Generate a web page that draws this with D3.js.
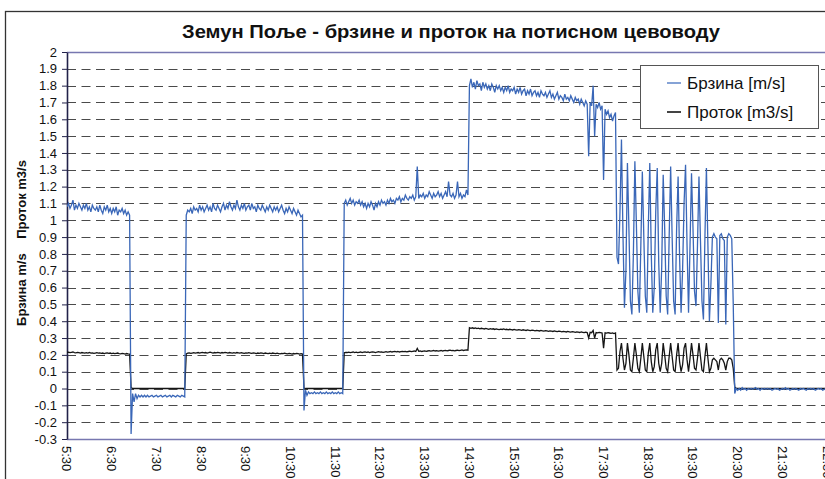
<!DOCTYPE html>
<html><head><meta charset="utf-8">
<script src="https://cdn.jsdelivr.net/npm/d3@7/dist/d3.min.js"></script>
<style>
body{margin:0;background:#fff}
svg{display:block;font-family:"Liberation Sans",Arial,sans-serif}
</style>
</head><body>
<svg id="c" width="825" height="479"></svg>
<script>
// ---------- DATA (minutes after 5:30, sampled every 2 min) ----------
const STEP = 2;
const title = "Земун Поље - брзине и проток на потисном цевоводу";
const seriesNames = ["Брзина [m/s]", "Проток [m3/s]"];
const yAxisTitle = "Брзина m/s    Проток m3/s";
const xTickLabels = ["5:30","6:30","7:30","8:30","9:30","10:30","11:30","12:30","13:30","14:30","15:30","16:30","17:30","18:30","19:30","20:30","21:30","22:30"];
const yTickValues = [-0.3,-0.2,-0.1,0,0.1,0.2,0.3,0.4,0.5,0.6,0.7,0.8,0.9,1,1.1,1.2,1.3,1.4,1.5,1.6,1.7,1.8,1.9,2];

// Брзина (velocity)
const brzina1 = [1.08,1.10,1.07,1.09,1.12,1.06,1.09,1.07,1.10,1.08,
1.06,1.09,1.07,1.10,1.06,1.08,1.05,1.09,1.07,1.06,
1.08,1.05,1.09,1.06,1.04,1.08,1.06,1.09,1.05,1.07,
1.04,1.07,1.05,1.08,1.03,1.06,1.05,1.07,1.04,1.06,
1.03,1.05,1.03];
const brzina2 = [-0.27,-0.03,-0.08,-0.03,-0.06,-0.04,-0.05,-0.04,-0.05,-0.04,
-0.05,-0.04,-0.05,-0.045,-0.04,-0.05,-0.045,-0.04,-0.05,-0.045,
-0.04,-0.05,-0.045,-0.04,-0.05,-0.045,-0.04,-0.05,-0.04,-0.045,
-0.05,-0.04,-0.045,-0.05,-0.04,-0.045,-0.05];
const brzina3 = [1.03,1.06,1.05,1.07,1.04,1.08,1.06,1.07,1.05,1.09,
1.06,1.08,1.05,1.07,1.09,1.06,1.08,1.05,1.10,1.07,
1.06,1.09,1.07,1.05,1.08,1.10,1.06,1.09,1.07,1.11,
1.08,1.06,1.09,1.07,1.12,1.08,1.06,1.09,1.07,1.10,
1.06,1.08,1.09,1.06,1.10,1.07,1.08,1.05,1.09,1.07,
1.06,1.09,1.07,1.05,1.08,1.06,1.09,1.07,1.05,1.08,
1.06,1.08,1.05,1.07,1.09,1.06,1.04,1.07,1.05,1.08,
1.06,1.04,1.07,1.05,1.03,1.06,1.04,1.02,1.03];
const brzina4 = [-0.13,-0.01,-0.04,-0.02,-0.03,-0.025,-0.03,-0.02,-0.03,-0.025,
-0.03,-0.02,-0.03,-0.025,-0.03,-0.02,-0.03,-0.025,-0.03,-0.02,
-0.03,-0.025,-0.03,-0.02,-0.03,-0.025,-0.03];
const brzina5 = [1.10,1.12,1.09,1.11,1.13,1.10,1.12,1.09,1.11,1.10,
1.12,1.09,1.11,1.08,1.10,1.07,1.10,1.08,1.11,1.09,
1.06,1.10,1.08,1.11,1.09,1.12,1.10,1.11,1.09,1.12,
1.10,1.13,1.11,1.12,1.10,1.13,1.12,1.14,1.11,1.13,
1.12,1.15,1.13,1.12,1.14,1.13,1.15,1.12,1.14,1.32,
1.13,1.15,1.14,1.16,1.13,1.15,1.14,1.17,1.15,1.13,
1.16,1.14,1.15,1.17,1.14,1.16,1.13,1.15,1.17,1.14,
1.23,1.15,1.14,1.16,1.13,1.15,1.23,1.14,1.16,1.13,
1.15,1.14,1.18,1.15];
const brzina6 = [1.80,1.84,1.79,1.82,1.78,1.83,1.80,1.81,1.77,1.82,
1.79,1.81,1.78,1.80,1.77,1.81,1.79,1.76,1.80,1.78,
1.80,1.77,1.79,1.76,1.79,1.77,1.80,1.76,1.78,1.77,
1.79,1.75,1.78,1.76,1.79,1.75,1.77,1.78,1.74,1.77,
1.75,1.78,1.74,1.76,1.77,1.74,1.76,1.73,1.77,1.75,
1.74,1.76,1.73,1.75,1.77,1.73,1.75,1.72,1.74,1.76,
1.72,1.74,1.73,1.71,1.75,1.72,1.73,1.71,1.74,1.72,
1.70,1.73,1.71,1.72,1.69,1.72,1.70,1.68,1.71,1.69,
1.38,1.70,1.68,1.80,1.50,1.69,1.67,1.70,1.66,1.68,
1.24,1.66,1.63,1.65,1.61,1.63,1.59,1.62,1.64];
const brzina7 = [0.78,0.74,1.05,1.48,0.92,0.48,0.70,1.34,0.95,0.52,
0.44,0.80,1.35,0.98,0.58,0.45,0.85,1.29,0.90,0.55,
0.45,0.95,1.34,0.80,0.45,0.60,1.05,1.31,0.75,0.45,
0.72,1.27,0.95,0.55,0.44,0.90,1.32,0.90,0.52,0.44,
0.95,1.26,0.78,0.45,0.70,1.10,1.33,0.85,0.45,0.85,
1.28,0.95,0.58,0.49,0.85,1.26,0.88,0.52,0.41,0.90,
1.31,0.85,0.40,0.62,0.90,0.92,0.90,0.89,0.39,0.91,
0.92,0.89,0.88,0.38,0.90,0.92,0.91,0.89,0.50,-0.03,
0.00];
const brzina8 = [-0.01,0.00,-0.01,0.005,-0.005,0.00,-0.01,0.00,-0.005,0.00,
-0.005,0.00,0.005,-0.005,0.00,-0.01,0.00,-0.005,0.00,-0.005,
0.00,-0.005,0.00,-0.01,-0.005,0.00,-0.005,0.00,-0.01,-0.005,
0.00,-0.005,0.005,-0.005,0.00,-0.01,-0.005,0.00,-0.005,0.00,
-0.005,-0.01,0.00,-0.005,0.00,-0.005,-0.01,0.00,-0.005,0.00,
-0.005,0.00,-0.01,-0.005,0.00,-0.005,0.00,-0.01,-0.005,0.00,
-0.005,0.00,-0.005,-0.01,0.00,-0.005,0.00,-0.005,-0.01,0.00,
-0.005];

// Проток (flow)
const protok1 = [0.214,0.216,0.213,0.215,0.217,0.214,0.212,0.215,0.213,0.211,
0.214,0.212,0.210,0.213,0.211,0.214,0.210,0.212,0.209,0.211,
0.213,0.210,0.212,0.209,0.211,0.208,0.210,0.212,0.209,0.211,
0.208,0.210,0.207,0.209,0.211,0.208,0.206,0.209,0.207,0.205,
0.208,0.206,0.205];
const protok2 = [0.005,0,0,0,0,0,0,0,0,0,
0,0,0,0,0,0,0,0,0,0,
0,0,0,0,0,0,0,0,0,0,
0,0,0,0,0,0,0];
const protok3 = [0.206,0.210,0.212,0.209,0.211,0.213,0.210,0.212,0.214,0.211,
0.213,0.215,0.212,0.214,0.211,0.213,0.216,0.213,0.211,0.214,
0.212,0.215,0.213,0.211,0.214,0.212,0.215,0.213,0.211,0.214,
0.212,0.210,0.213,0.211,0.214,0.212,0.210,0.213,0.211,0.209,
0.212,0.210,0.213,0.211,0.209,0.212,0.210,0.208,0.211,0.209,
0.212,0.210,0.208,0.211,0.209,0.207,0.210,0.208,0.211,0.209,
0.207,0.210,0.208,0.206,0.209,0.207,0.210,0.208,0.206,0.209,
0.207,0.205,0.208,0.206,0.209,0.207,0.205,0.207,0.205];
const protok4 = [0.003,0,0,0,0,0,0,0,0,0,
0,0,0,0,0,0,0,0,0,0,
0,0,0,0,0,0,0];
const protok5 = [0.213,0.215,0.214,0.216,0.213,0.215,0.217,0.214,0.216,0.213,
0.215,0.217,0.214,0.216,0.218,0.215,0.217,0.214,0.216,0.218,
0.216,0.214,0.217,0.219,0.216,0.218,0.215,0.217,0.219,0.216,
0.218,0.220,0.217,0.219,0.221,0.218,0.220,0.217,0.219,0.221,
0.219,0.221,0.218,0.220,0.222,0.219,0.221,0.223,0.220,0.238,
0.221,0.223,0.220,0.222,0.224,0.221,0.223,0.225,0.222,0.224,
0.226,0.223,0.225,0.222,0.224,0.226,0.223,0.225,0.227,0.224,
0.226,0.228,0.225,0.227,0.224,0.226,0.228,0.225,0.227,0.229,
0.226,0.228,0.230,0.228];
const protok6 = [0.362,0.358,0.361,0.357,0.360,0.356,0.359,0.355,0.358,0.356,
0.354,0.357,0.355,0.352,0.356,0.353,0.355,0.351,0.354,0.352,
0.350,0.353,0.351,0.354,0.350,0.352,0.349,0.352,0.350,0.348,
0.351,0.349,0.347,0.350,0.348,0.346,0.349,0.347,0.345,0.348,
0.346,0.344,0.347,0.345,0.343,0.346,0.344,0.342,0.345,0.343,
0.341,0.344,0.342,0.340,0.343,0.341,0.339,0.342,0.340,0.338,
0.341,0.339,0.337,0.340,0.338,0.336,0.339,0.337,0.335,0.338,
0.336,0.334,0.337,0.335,0.333,0.336,0.334,0.332,0.335,0.333,
0.300,0.334,0.332,0.345,0.300,0.333,0.331,0.334,0.332,0.330,
0.240,0.331,0.329,0.332,0.330,0.328,0.331,0.327,0.330];
const protok7 = [0.11,0.12,0.22,0.27,0.18,0.11,0.15,0.27,0.20,0.11,
0.10,0.18,0.27,0.20,0.12,0.10,0.18,0.27,0.19,0.11,
0.10,0.21,0.27,0.16,0.10,0.13,0.23,0.27,0.15,0.10,
0.15,0.27,0.20,0.12,0.10,0.19,0.27,0.19,0.11,0.10,
0.20,0.27,0.16,0.10,0.14,0.24,0.27,0.17,0.10,0.18,
0.27,0.20,0.12,0.11,0.18,0.27,0.19,0.11,0.10,0.19,
0.27,0.18,0.10,0.12,0.17,0.18,0.17,0.16,0.11,0.17,
0.18,0.17,0.15,0.11,0.16,0.18,0.18,0.17,0.12,0.01,
0.00];
const protok8 = [0,0,0,0,0,0,0,0,0,0,
0,0,0,0,0,0,0,0,0,0,
0,0,0,0,0,0,0,0,0,0,
0,0,0,0,0,0,0,0,0,0,
0,0,0,0,0,0,0,0,0,0,
0,0,0,0,0,0,0,0,0,0,
0,0,0,0,0,0,0,0,0,0,
0];

// segment start minutes
const segmentStarts = [0, 86, 160, 318, 372, 540, 738, 900];
const brzinaParts = [brzina1, brzina2, brzina3, brzina4, brzina5, brzina6, brzina7, brzina8];
const protokParts = [protok1, protok2, protok3, protok4, protok5, protok6, protok7, protok8];

// ---------- BUILD ----------
function build(parts){
  const out = [];
  parts.forEach((vals, k) => vals.forEach((v, i) => out.push({t: segmentStarts[k] + i*STEP, v})));
  return out;
}
const brzinaData = build(brzinaParts);
const protokData = build(protokParts);

const W = 825, H = 479;
const PL = 67, PR = 851, PT = 52, PB = 439;
const x = d3.scaleLinear().domain([0, 1052]).range([PL, PR]);
const y = d3.scaleLinear().domain([-0.3, 2]).range([PB, PT]);

const svg = d3.select("#c");
svg.append("rect").attr("width", W).attr("height", H).attr("fill", "#fff");
// outer chart border
svg.append("rect").attr("x", 5.5).attr("y", 11.5).attr("width", 900).attr("height", 600)
  .attr("fill", "none").attr("stroke", "#333").attr("stroke-width", 1.3);

// title
svg.append("text").attr("x", 451).attr("y", 37.5).attr("text-anchor", "middle")
  .attr("font-size", 18.5).attr("font-weight", "bold").attr("fill", "#111")
  .attr("textLength", 538).attr("lengthAdjust", "spacingAndGlyphs").text(title);

// grid
const grid = svg.append("g");
yTickValues.filter(v => v > -0.3 && v < 2).forEach(v => {
  grid.append("line").attr("x1", PL).attr("x2", W).attr("y1", Math.round(y(v)) + 0.5).attr("y2", Math.round(y(v)) + 0.5)
    .attr("stroke", "#4a4a4a").attr("stroke-width", 1).attr("stroke-dasharray", "9,5.5");
});
// plot area top/bottom edges
[2, -0.3].forEach(v => {
  svg.append("line").attr("x1", PL).attr("x2", W).attr("y1", Math.round(y(v)) + 0.5).attr("y2", Math.round(y(v)) + 0.5)
    .attr("stroke", "#7777b0").attr("stroke-width", 1.5);
});

// y axis
const yAxis = d3.axisLeft(y).tickValues(yTickValues).tickSize(5).tickSizeOuter(0)
  .tickFormat(d => String(+d.toFixed(1)));
const ya = svg.append("g").attr("transform", `translate(${PL},0)`).call(yAxis);
ya.select(".domain").attr("stroke", "#22224a").attr("stroke-width", 1.6);
ya.selectAll(".tick line").attr("stroke", "#22224a");
ya.selectAll(".tick text").attr("font-size", 13).attr("fill", "#111").attr("font-family", "Liberation Sans, Arial, sans-serif").attr("x", -10);

// x axis labels
const xTicks = xTickLabels.map((lab, i) => ({t: i*60, lab}));
const xa = svg.append("g");
xa.selectAll("text").data(xTicks).join("text")
  .attr("transform", d => `translate(${x(d.t)},446) rotate(90)`)
  .attr("dy", "0.35em").attr("font-size", 13).attr("fill", "#111")
  .text(d => d.lab);

// y axis title
svg.append("text").attr("transform", "translate(26,243) rotate(-90)")
  .attr("text-anchor", "middle").attr("font-size", 13).attr("font-weight", "bold").attr("fill", "#111")
  .style("white-space", "pre").text(yAxisTitle);

// lines
const line = d3.line().x(d => x(d.t)).y(d => y(d.v));
svg.append("clipPath").attr("id", "pc").append("rect")
  .attr("x", PL).attr("y", PT - 2).attr("width", PR - PL).attr("height", PB - PT + 4);
const plot = svg.append("g").attr("clip-path", "url(#pc)");
plot.append("path").datum(protokData).attr("d", line).attr("fill", "none").attr("stroke", "#151515").attr("stroke-width", 1.3);
plot.append("path").datum(brzinaData).attr("d", line).attr("fill", "none").attr("stroke", "#3a67b8").attr("stroke-width", 1.3);

// legend
const lg = svg.append("g");
lg.append("rect").attr("x", 640.5).attr("y", 65.5).attr("width", 178).attr("height", 63)
  .attr("fill", "#fff").attr("stroke", "#555").attr("stroke-width", 1);
const legendColors = ["#86a3d6", "#444"];
seriesNames.forEach((n, i) => {
  const yy = 83 + i*29;
  lg.append("line").attr("x1", 667).attr("x2", 681).attr("y1", yy).attr("y2", yy)
    .attr("stroke", legendColors[i]).attr("stroke-width", 2);
  lg.append("text").attr("x", 687).attr("y", yy).attr("dy", "0.36em")
    .attr("font-size", 17).attr("fill", "#111").text(n);
});
</script>
</body></html>
